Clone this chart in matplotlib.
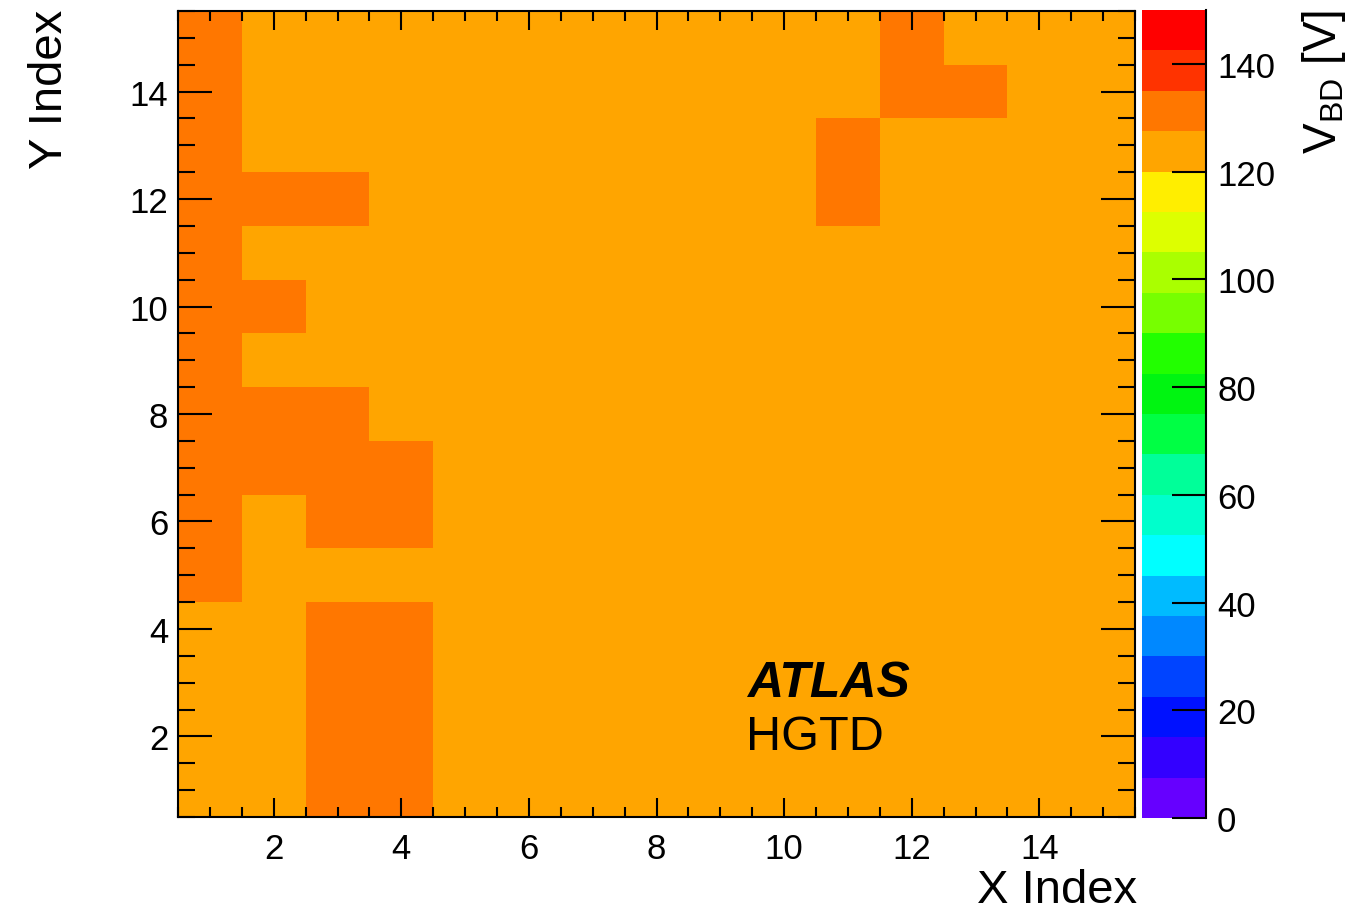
import numpy as np
import matplotlib.pyplot as plt
from matplotlib.colors import ListedColormap, BoundaryNorm

plt.rcParams['font.family'] = ['Liberation Sans', 'DejaVu Sans']
plt.rcParams['mathtext.fontset'] = 'custom'
plt.rcParams['mathtext.rm'] = 'Liberation Sans'
plt.rcParams['mathtext.it'] = 'Liberation Sans:italic'
plt.rcParams['mathtext.bf'] = 'Liberation Sans:bold'

# breakdown voltage per pad, rows listed from Y=15 down to Y=1, columns X=1..15
L, D = 124, 131
vbd_rows = [
    [D, L, L, L, L, L, L, L, L, L, L, D, L, L, L],  # Y=15
    [D, L, L, L, L, L, L, L, L, L, L, D, D, L, L],  # Y=14
    [D, L, L, L, L, L, L, L, L, L, D, L, L, L, L],  # Y=13
    [D, D, D, L, L, L, L, L, L, L, D, L, L, L, L],  # Y=12
    [D, L, L, L, L, L, L, L, L, L, L, L, L, L, L],  # Y=11
    [D, D, L, L, L, L, L, L, L, L, L, L, L, L, L],  # Y=10
    [D, L, L, L, L, L, L, L, L, L, L, L, L, L, L],  # Y=9
    [D, D, D, L, L, L, L, L, L, L, L, L, L, L, L],  # Y=8
    [D, D, D, D, L, L, L, L, L, L, L, L, L, L, L],  # Y=7
    [D, L, D, D, L, L, L, L, L, L, L, L, L, L, L],  # Y=6
    [D, L, L, L, L, L, L, L, L, L, L, L, L, L, L],  # Y=5
    [L, L, D, D, L, L, L, L, L, L, L, L, L, L, L],  # Y=4
    [L, L, D, D, L, L, L, L, L, L, L, L, L, L, L],  # Y=3
    [L, L, D, D, L, L, L, L, L, L, L, L, L, L, L],  # Y=2
    [L, L, D, D, L, L, L, L, L, L, L, L, L, L, L],  # Y=1
]
x_index = np.arange(1, 16)
y_index = np.arange(1, 16)
z_min, z_max, n_levels = 0, 150, 20
cbar_ticks = [0, 20, 40, 60, 80, 100, 120, 140]

# 20-step rainbow palette
palette = ['#6600ff', '#3300ff', '#0011ff', '#0044ff', '#0088ff',
           '#00bbff', '#00ffff', '#00ffcc', '#00ff99', '#00ff44',
           '#00f511', '#22ff00', '#77ff00', '#aaff00', '#ddff00',
           '#ffee00', '#ffa500', '#ff7700', '#ff3300', '#ff0000']

vbd = np.array(vbd_rows[::-1], dtype=float)
cmap = ListedColormap(palette)
norm = BoundaryNorm(np.linspace(z_min, z_max, n_levels + 1), cmap.N)

W, H = 1365, 912
fig = plt.figure(figsize=(W / 100, H / 100), dpi=100)
ax = fig.add_axes([178 / W, 1 - 818 / H, (1135 - 178) / W, (818 - 12) / H])
cax = fig.add_axes([1142 / W, 1 - 819 / H, (1206 - 1142) / W, (819 - 11) / H])

xe = np.append(x_index - 0.5, x_index[-1] + 0.5)
ye = np.append(y_index - 0.5, y_index[-1] + 0.5)
mesh = ax.pcolormesh(xe, ye, vbd, cmap=cmap, norm=norm, edgecolors='none')
ax.set_xlim(0.5, 15.5)
ax.set_ylim(0.5, 15.5)

ax.set_xticks(np.arange(2, 15, 2))
ax.set_yticks(np.arange(2, 15, 2))
ax.set_xticks(np.arange(0.5, 15.6, 0.5), minor=True)
ax.set_yticks(np.arange(0.5, 15.6, 0.5), minor=True)
ax.tick_params(axis='both', which='both', direction='in', top=True, right=True,
               width=1.5, labelsize=25)
ax.tick_params(axis='x', which='major', length=13.7, pad=11)
ax.tick_params(axis='x', which='minor', length=7)
ax.tick_params(axis='y', which='major', length=24.5, pad=7)
ax.tick_params(axis='y', which='minor', length=12)
for sp in ax.spines.values():
    sp.set_linewidth(1.5)

# axis titles, ROOT style: right-aligned to the frame ends
fig.text(1137 / W, 1 - 903 / H, 'X Index', fontsize=34, ha='right', va='baseline')
fig.text(62 / W, 1 - 10 / H, 'Y Index', fontsize=34, rotation=90,
         ha='right', va='baseline', rotation_mode='anchor')

fig.text(747 / W, 1 - 697 / H, 'ATLAS', fontsize=36, fontweight='bold',
         fontstyle='italic', ha='left', va='baseline')
fig.text(746 / W, 1 - 750 / H, 'HGTD', fontsize=35, ha='left', va='baseline')

cb = fig.colorbar(mesh, cax=cax, ticks=cbar_ticks)
cb.outline.set_visible(False)
cax.spines['right'].set_visible(True)
cax.spines['right'].set_linewidth(1.5)
cax.minorticks_off()
cax.tick_params(axis='y', which='major', direction='in', right=True, left=False,
                length=24.5, width=1.5, labelsize=25, pad=8)
cax.set_ylim(z_min, z_max)

fig.text(1336 / W, 1 - 10 / H, r'$\mathrm{V}_{\mathrm{BD}}$ [V]', fontsize=33,
         rotation=90, ha='right', va='baseline', rotation_mode='anchor')

fig.savefig('out.png', dpi=100)
